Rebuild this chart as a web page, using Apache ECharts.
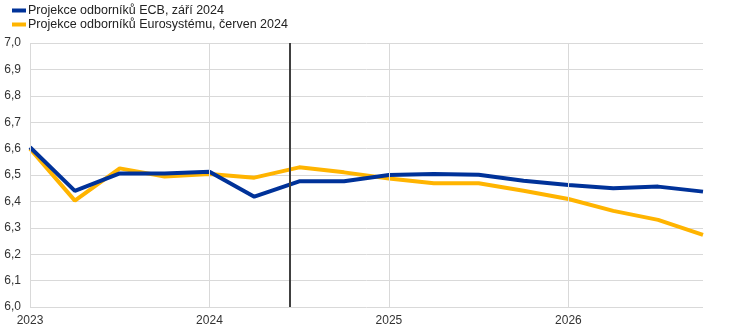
<!DOCTYPE html>
<html>
<head>
<meta charset="utf-8">
<script src="https://cdn.jsdelivr.net/npm/echarts@6/dist/echarts.min.js"></script>
<style>
html,body{margin:0;padding:0;background:#fff;}
#chart{width:740px;height:335px;}
</style>
</head>
<body>
<div id="chart"></div>
<script>
// Quarterly time points (year fractions)
const quarters = [2023, 2023.25, 2023.5, 2023.75, 2024, 2024.25, 2024.5, 2024.75,
                  2025, 2025.25, 2025.5, 2025.75, 2026, 2026.25, 2026.5, 2026.75];
const seriesNames = ['Projekce odborníků ECB, září 2024', 'Projekce odborníků Eurosystému, červen 2024'];
const ecbSep2024 = [6.605, 6.44, 6.506, 6.506, 6.512, 6.418, 6.476, 6.476,
                    6.50, 6.504, 6.501, 6.478, 6.462, 6.45, 6.456, 6.437];
const eurJun2024 = [6.60, 6.403, 6.525, 6.494, 6.504, 6.49, 6.529, 6.51,
                    6.487, 6.469, 6.469, 6.44, 6.409, 6.364, 6.33, 6.273];
const cutoff = 2024.45;
const xTickYears = [2023, 2024, 2025, 2026];

const toPairs = (vals) => quarters.map((q, i) => [q, vals[i]]);

const chart = echarts.init(document.getElementById('chart'), null, {renderer: 'canvas'});
const font = 'Arial, "Liberation Sans", sans-serif';
chart.setOption({
  animation: false,
  textStyle: {fontFamily: font},
  legend: {
    orient: 'vertical',
    left: 7, top: -1,
    itemGap: 1,
    itemWidth: 14, itemHeight: 4,
    icon: 'rect',
    data: seriesNames,
    textStyle: {fontSize: 12.5, color: '#222', fontFamily: font, padding: [0,0,0,-3]}
  },
  grid: {left: 30, right: 37, top: 43, bottom: 28, containLabel: false},
  xAxis: {
    type: 'value',
    min: 2023, max: 2026.75, interval: 1,
    axisLine: {show: false},
    axisTick: {show: false},
    splitLine: {show: false},
    axisLabel: {
      color: '#333', fontSize: 12, fontFamily: font, margin: 8,
      showMaxLabel: false,
      formatter: v => xTickYears.includes(v) ? String(v) : ''
    }
  },
  yAxis: {
    type: 'value',
    min: 6.0, max: 7.0, interval: 0.1,
    axisLine: {show: false},
    axisTick: {show: false},
    splitLine: {lineStyle: {color: '#d9d9d9', width: 1}},
    axisLabel: {
      color: '#333', fontSize: 12, fontFamily: font, margin: 9,
      formatter: v => v.toFixed(1).replace('.', ',')
    }
  },
  series: [
    {
      name: seriesNames[1],
      type: 'line',
      data: toPairs(eurJun2024),
      showSymbol: false,
      z: 3,
      lineStyle: {color: '#FFB400', width: 4},
      itemStyle: {color: '#FFB400'}
    },
    {
      name: seriesNames[0],
      type: 'line',
      data: toPairs(ecbSep2024),
      showSymbol: false,
      z: 4,
      lineStyle: {color: '#003299', width: 4},
      itemStyle: {color: '#003299'}
    },
    {
      name: 'grid-years',
      type: 'line',
      data: [],
      z: 1,
      silent: true,
      markLine: {
        silent: true, symbol: 'none', label: {show: false},
        lineStyle: {color: '#d9d9d9', width: 1, type: 'solid'},
        data: xTickYears.map(y => ({xAxis: y}))
      }
    },
    {
      name: 'cutoff',
      type: 'line',
      data: [],
      z: 2,
      silent: true,
      markLine: {
        silent: true, symbol: 'none', label: {show: false},
        lineStyle: {color: '#404040', width: 2, type: 'solid'},
        data: [{xAxis: cutoff}]
      }
    }
  ]
});
</script>
</body>
</html>
